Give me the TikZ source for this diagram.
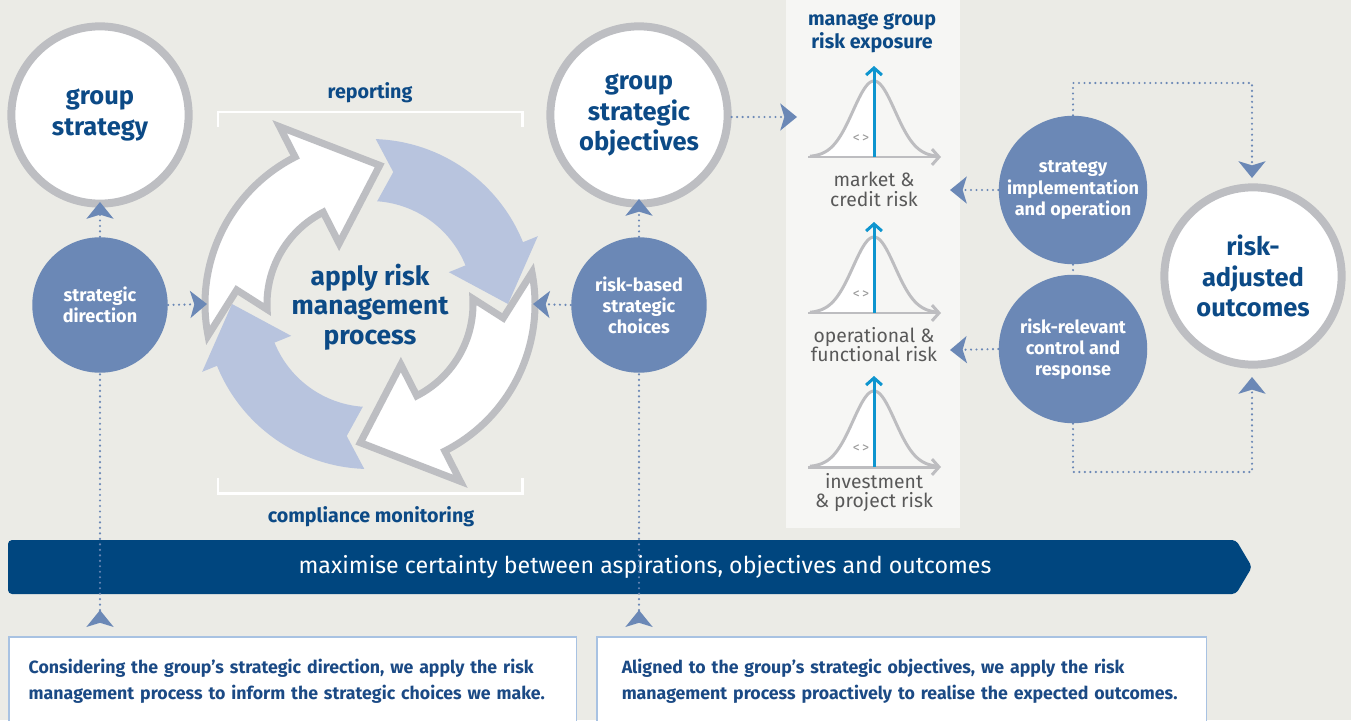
\documentclass[tikz,border=0pt]{standalone}
\usepackage{fontspec}
\setmainfont{Fira Sans}
\usetikzlibrary{arrows.meta}
\definecolor{bgc}{HTML}{EBEBE6}
\definecolor{panelc}{HTML}{F6F6F4}
\definecolor{ringgray}{HTML}{BDBEC2}
\definecolor{mblue}{HTML}{6B88B6}
\definecolor{lblue}{HTML}{B8C4DE}
\definecolor{dblue}{HTML}{0C4A86}
\definecolor{bannerc}{HTML}{00467F}
\definecolor{cyanb}{HTML}{0E95CF}
\definecolor{labgray}{HTML}{595959}
\definecolor{curvegray}{HTML}{BDBDC0}
\definecolor{boxborder}{HTML}{A8C2E2}
\definecolor{boxtext}{HTML}{1B4A85}
\newcommand\cycwhite[1]{%
\filldraw[warrow] ({#1+105}:165) arc[start angle={#1+105}, end angle={#1+31}, radius=165] -- ({#1+31}:199) -- (#1:139) -- ({#1+31}:68) -- ({#1+31}:103) arc[start angle={#1+31}, end angle={#1+97}, radius=103] -- ({#1+88}:134) -- cycle;}
\newcommand\cycblue[1]{%
\fill[lblue] ({#1+88}:165) arc[start angle={#1+88}, end angle={#1+22}, radius=165] -- ({#1+22}:181) -- (#1:138) -- ({#1+22}:85) -- ({#1+22}:103) arc[start angle={#1+22}, end angle={#1+86}, radius=103] -- ({#1+80}:134) -- cycle;}
\newcommand\bellcurve[1]{%
\fill[white] (810,#1) -- plot[domain=810:874,samples=40] (\x,{#1-76*exp(-((\x-874)^2)/882)}) -- (874,#1) -- cycle;
\draw[curveline] plot[domain=810:938,samples=90] (\x,{#1-76*exp(-((\x-874)^2)/882)});
\draw[curveline,barbtip] (808,#1) -- (941,#1);
\draw[cyanline,barbtip] (874,#1) -- (874,#1-91);
\node[font=\fontsize{8}{8}\selectfont, text=gray!80] at (861,#1-18) {<\,>};}
\begin{document}
\begin{tikzpicture}[x=0.02cm,y=-0.02cm,
  ringc/.style={circle, draw=ringgray, line width=4.54pt, fill=white, minimum size=100.9pt, inner sep=0pt, align=center, text=dblue, font=\fontsize{14.5}{17.5}\selectfont\bfseries},
  bluec/.style={circle, fill=mblue, minimum size=77.1pt, inner sep=0pt, align=center, text=white, font=\fontsize{10.3}{12}\selectfont\bfseries},
  dotline/.style={draw=mblue, line width=1.36pt, line cap=round, dash pattern=on 0pt off 3.12pt},
  chevtip/.style={-{Stealth[length=9.6pt,width=15.6pt,inset=2.4pt,line width=0pt]}},
  revchev/.style={{Stealth[reversed,length=9.6pt,width=15.6pt,inset=2.4pt,line width=0pt]}-},
  barbtip/.style={-{Straight Barb[length=4pt,width=9pt]}},
  warrow/.style={fill=white, draw=ringgray, line width=4pt, line join=miter},
  curveline/.style={draw=curvegray, line width=1.7pt},
  cyanline/.style={draw=cyanb, line width=1.7pt},
  lab/.style={text=labgray, align=center, font=\fontsize{11}{11}\selectfont},
  headtxt/.style={text=dblue, align=center, font=\fontsize{11.2}{13}\selectfont\bfseries},
  boxnode/.style={draw=boxborder, line width=0.9pt, fill=white, anchor=north west, minimum height=51pt, align=left, text=boxtext, font=\fontsize{10.1}{14.7}\selectfont\bfseries},
  bracket/.style={draw=white, line width=1.7pt}
]
\useasboundingbox (0,0) rectangle (1351,720);
\clip (0,0) rectangle (1351,720);
\fill[bgc] (0,0) rectangle (1351,720);

% right panel
\fill[panelc] (786,0) rectangle (960,528);
\node[headtxt] (mgre) at (872,33) {manage group\\risk exposure};
\bellcurve{157}
\bellcurve{313}
\bellcurve{467}
\node[lab] (mcrl) at (874,189.5) {market \&\\credit risk};
\node[lab] (ofrl) at (874,344.5) {operational \&\\functional risk};
\node[lab] (iprl) at (874,492.5) {investment\\\& project risk};

% banner
\fill[bannerc, rounded corners=2.3pt] (8,540) -- (1236,540) -- (1252,567) -- (1236,594) -- (8,594) -- cycle;
\node[text=white, font=\fontsize{13.2}{14}\selectfont] (ban) at (645,567) {maximise certainty between aspirations, objectives and outcomes};

% bottom boxes
\node[boxnode, minimum width=323.2pt, text width=300.5pt, inner xsep=11.34pt] (box1) at (8,636) {Considering the group’s strategic direction, we apply the risk\\management process to inform the strategic choices we make.};
\node[boxnode, minimum width=347pt, text width=318.6pt, inner xsep=14.17pt] (box2) at (596,636) {Aligned to the group’s strategic objectives, we apply the risk\\management process proactively to realise the expected outcomes.};

% cycle
\begin{scope}[shift={(370,304)}, y=0.02cm]
\cycblue{0}
\cycblue{180}
\cycwhite{86}
\cycwhite{266}
\end{scope}
\node[text=dblue, align=center, font=\fontsize{15}{16.8}\selectfont\bfseries] (arm) at (370,307) {apply risk\\management\\process};
\draw[bracket] (218,127) -- (218,112) -- (522,112) -- (522,127);
\draw[bracket] (218,478) -- (218,493) -- (522,493) -- (522,478);
\node[headtxt] (rep) at (370,93) {reporting};
\node[headtxt] (com) at (371,517) {compliance monitoring};

% circles
\node[ringc] (gs) at (100,115) {group\\strategy};
\node[bluec] (sd) at (100,305) {strategic\\direction};
\node[ringc] (gso) at (639,115) {group\\strategic\\objectives};
\node[bluec] (rbc) at (639,305) {risk-based\\strategic\\choices};
\node[bluec, minimum size=84.5pt] (sio) at (1073,190) {strategy\\implementation\\and operation};
\node[bluec, minimum size=84.5pt] (rrc) at (1073,349) {risk-relevant\\control and\\response};
\node[ringc] (rao) at (1253,276) {risk-\\adjusted\\outcomes};

% connector ends
\coordinate (gsin) at (100,202);
\coordinate (cycin1) at (207,304);
\coordinate (box1out) at (100,627);
\coordinate (gsoin) at (639,199);
\coordinate (cycin2) at (533,304);
\coordinate (box2out) at (639,627);
\coordinate (panin) at (797,117);
\coordinate (mcrin) at (950,190);
\coordinate (ofrin) at (950,350);
\coordinate (tr) at (1252,83);
\coordinate (br) at (1252,472);
\coordinate (raoin1) at (1252,178);
\coordinate (raoin2) at (1252,377);

% connectors
\draw[dotline,chevtip] (sd.north) -- (gsin);
\draw[dotline,chevtip] (sd.east) -- (cycin1);
\draw[dotline,revchev] (box1out) -- (sd.south);
\draw[dotline,chevtip] (rbc.north) -- (gsoin);
\draw[dotline,chevtip] (rbc.west) -- (cycin2);
\draw[dotline,revchev] (box2out) -- (rbc.south);
\draw[dotline,chevtip] (gso.east |- panin) -- (panin);
\draw[dotline,chevtip] (sio.west) -- (mcrin);
\draw[dotline,chevtip] (rrc.west) -- (ofrin);
\draw[dotline] (sio.south) -- (rrc.north);
\draw[dotline,chevtip] (sio.north) |- (tr) -- (raoin1);
\draw[dotline,chevtip] (rrc.south) |- (br) -- (raoin2);
\end{tikzpicture}
\end{document}
